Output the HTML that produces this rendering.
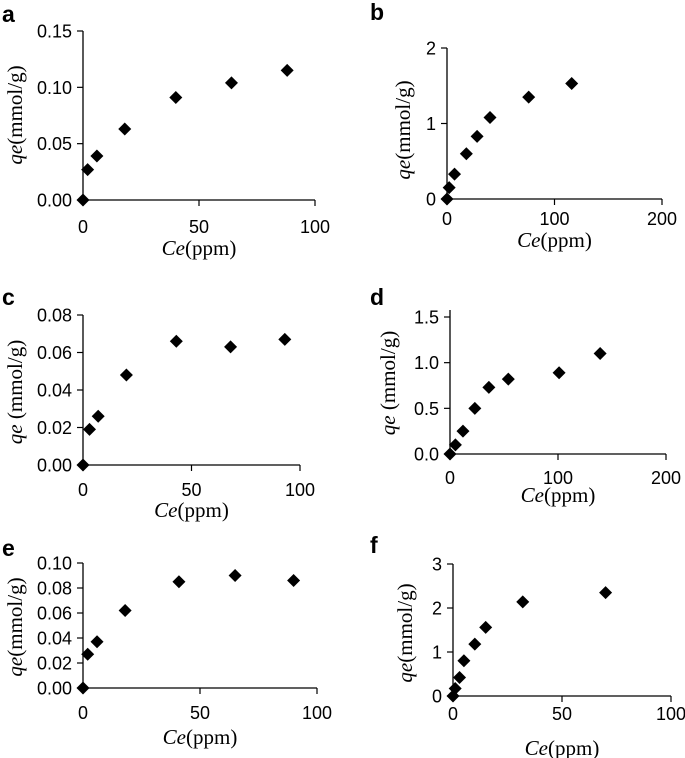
<!DOCTYPE html>
<html><head><meta charset="utf-8"><style>
body{margin:0;background:#fff;}
svg{display:block;}
.tk{font-family:"Liberation Sans",sans-serif;font-size:18px;fill:#000;}
.tt{font-family:"Liberation Serif",serif;font-size:21px;fill:#000;}
.pl{font-family:"Liberation Sans",sans-serif;font-size:23px;font-weight:bold;fill:#000;}
</style></head><body>
<svg id="fig" width="685" height="758" viewBox="0 0 685 758"></svg>
<script>
const xA=[0,2,6,18,40,64,88];
const yA=[0,0.027,0.039,0.063,0.091,0.104,0.115];
const xB=[0,2,7,18,28,40,76,116];
const yB=[0,0.15,0.33,0.6,0.83,1.08,1.35,1.53];
const xC=[0,3,7,20,43,68,93];
const yC=[0,0.019,0.026,0.048,0.066,0.063,0.067];
const xD=[0,5,12,23,36,54,101,139];
const yD=[0,0.1,0.25,0.5,0.73,0.82,0.89,1.1];
const xE=[0,2,6,18,41,65,90];
const yE=[0,0.027,0.037,0.062,0.085,0.090,0.086];
const xF=[0,1,3,5,10,15,32,70];
const yF=[0,0.17,0.42,0.8,1.18,1.56,2.14,2.35];
const xTicksA=[0,50,100], yTicksA=["0.00","0.05","0.10","0.15"];
const xTicksB=[0,100,200], yTicksB=["0","1","2"];
const xTicksC=[0,50,100], yTicksC=["0.00","0.02","0.04","0.06","0.08"];
const xTicksD=[0,100,200], yTicksD=["0.0","0.5","1.0","1.5"];
const xTicksE=[0,50,100], yTicksE=["0.00","0.02","0.04","0.06","0.08","0.10"];
const xTicksF=[0,50,100], yTicksF=["0","1","2","3"];

const panels=[
 {id:'a',xs:xA,ys:yA,xt:xTicksA,yt:yTicksA,x0:83,x1:315,y0:200,y1:31,ext:0,lx:2,ly:22,tx:15,ty:115,ytitle:'(mmol/g)',xly:233,cey:255},
 {id:'b',xs:xB,ys:yB,xt:xTicksB,yt:yTicksB,x0:447,x1:662,y0:199,y1:48,ext:0,lx:370,ly:20,tx:403,ty:130,ytitle:'(mmol/g)',xly:225,cey:247},
 {id:'c',xs:xC,ys:yC,xt:xTicksC,yt:yTicksC,x0:83,x1:300,y0:465,y1:315,ext:0,lx:2,ly:305,tx:15,ty:392,ytitle:' (mmol/g)',xly:496,cey:517},
 {id:'d',xs:xD,ys:yD,xt:xTicksD,yt:yTicksD,x0:450,x1:666,y0:454,y1:317,ext:7,lx:370,ly:305,tx:388,ty:383,ytitle:' (mmol/g)',xly:484,cey:502},
 {id:'e',xs:xE,ys:yE,xt:xTicksE,yt:yTicksE,x0:83,x1:317,y0:688,y1:563,ext:0,lx:2,ly:556,tx:15,ty:627,ytitle:'(mmol/g)',xly:719,cey:744},
 {id:'f',xs:xF,ys:yF,xt:xTicksF,yt:yTicksF,x0:453,x1:671,y0:696,y1:564,ext:0,lx:370,ly:553,tx:405,ty:633,ytitle:'(mmol/g)',xly:720,cey:755}
];
const svg=document.getElementById('fig');
const NS='http://www.w3.org/2000/svg';
function mk(tag,attrs,parent){const e=document.createElementNS(NS,tag);for(const k in attrs)e.setAttribute(k,attrs[k]);parent.appendChild(e);return e;}
panels.forEach(p=>{
 const g=mk('g',{},svg);
 
 
 const xmax=p.xt[p.xt.length-1], ymax=parseFloat(p.yt[p.yt.length-1]);
 const sx=v=>p.x0+(p.x1-p.x0)*v/xmax;
 const sy=v=>p.y0-(p.y0-p.y1)*v/ymax;
 const lab=mk('text',{x:p.lx,y:p.ly,class:'pl'},g);lab.textContent=p.id;
 
 
 const ya=mk('line',{x1:p.x0,y1:p.y0,x2:p.x0,y2:p.y1-p.ext,stroke:'#000','stroke-width':1.3},g);
 
 
 const xa=mk('line',{x1:p.x0,y1:p.y0,x2:p.x1,y2:p.y0,stroke:'#000','stroke-width':1.3},g);
 
 
 p.yt.forEach(t=>{const y=sy(parseFloat(t));
  mk('line',{x1:p.x0-6,y1:y,x2:p.x0,y2:y,stroke:'#000','stroke-width':1.2},g);
  const tx=mk('text',{x:p.x0-11,y:y+6.5,class:'tk','text-anchor':'end'},g);tx.textContent=t;
  
  });
 p.xt.forEach(t=>{const x=sx(t);
  mk('line',{x1:x,y1:p.y0,x2:x,y2:p.y0+6,stroke:'#000','stroke-width':1.2},g);
  const tx=mk('text',{x:x,y:p.xly,class:'tk','text-anchor':'middle'},g);tx.textContent=t;
  
  });
 const xt=mk('text',{x:(p.x0+p.x1)/2,y:p.cey,class:'tt','text-anchor':'middle'},g);
 xt.innerHTML='<tspan font-style="italic">Ce</tspan>(ppm)';
 
 
 const yt=mk('text',{x:0,y:0,class:'tt','text-anchor':'middle',transform:`translate(${p.tx+7},${p.ty}) rotate(-90)`},g);
 yt.innerHTML='<tspan font-style="italic">qe</tspan>'+p.ytitle;
 
 
 p.xs.forEach((v,i)=>{const cx=sx(v),cy=sy(p.ys[i]),r=6.5;
  const d=mk('polygon',{points:`${cx},${cy-r} ${cx+r},${cy} ${cx},${cy+r} ${cx-r},${cy}`,fill:'#000'},g);
  
  });
});
</script>
</body></html>
